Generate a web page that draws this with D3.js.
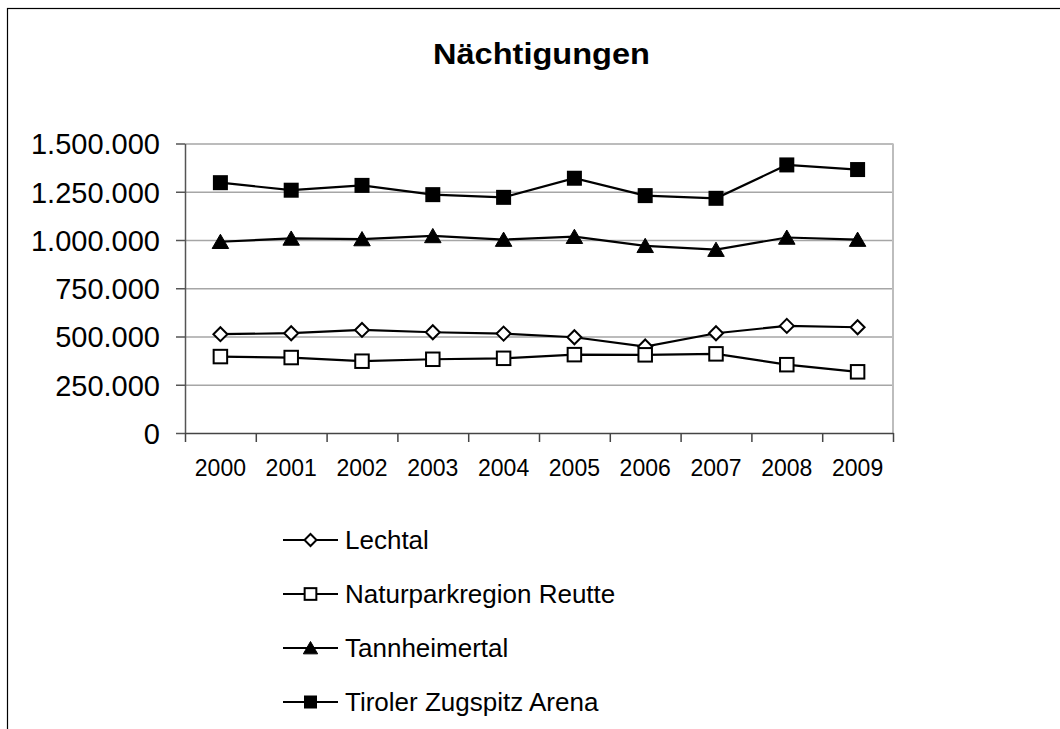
<!DOCTYPE html>
<html>
<head>
<meta charset="utf-8">
<script src="https://cdn.jsdelivr.net/npm/d3@7"></script>
<style>
  html, body { margin: 0; padding: 0; background: #fff; }
  svg { display: block; font-family: "Liberation Sans", Arial, sans-serif; }
</style>
</head>
<body>
<div id="chart"></div>
<script>
// Data
const years = ['2000', '2001', '2002', '2003', '2004', '2005', '2006', '2007', '2008', '2009'];
const lechtal = [512000, 517000, 534000, 522000, 515000, 496000, 448000, 517000, 555000, 548000];
const reutte = [396000, 391000, 372000, 382000, 387000, 406000, 405000, 410000, 354000, 317000];
const tannheimertal = [991000, 1008000, 1005000, 1021000, 1002000, 1017000, 970000, 950000, 1013000, 1002000];
const zugspitz = [1297000, 1258000, 1283000, 1235000, 1221000, 1320000, 1230000, 1216000, 1389000, 1365000];
const yTicks = [0, 250000, 500000, 750000, 1000000, 1250000, 1500000];
const seriesNames = ['Lechtal', 'Naturparkregion Reutte', 'Tannheimertal', 'Tiroler Zugspitz Arena'];

const SERIES = [
  { name: seriesNames[0], values: lechtal, marker: 'diamond' },
  { name: seriesNames[1], values: reutte, marker: 'openSquare' },
  { name: seriesNames[2], values: tannheimertal, marker: 'triangle' },
  { name: seriesNames[3], values: zugspitz, marker: 'square' },
];

const width = 1060, height = 729;
const plot = { left: 185, right: 893, top: 143.5, bottom: 433 };

const svg = d3.select('#chart').append('svg')
  .attr('width', width).attr('height', height);

// Outer chart frame
svg.append('rect')
  .attr('x', 7.5).attr('y', 8.5)
  .attr('width', 1100).attr('height', 800)
  .attr('fill', 'none').attr('stroke', '#000').attr('stroke-width', 1.2);

// Title (slightly wider glyphs, as in the original)
svg.append('text')
  .attr('x', 433).attr('y', 64)
  .attr('textLength', 217).attr('lengthAdjust', 'spacingAndGlyphs')
  .style('font-size', '29px').style('font-weight', 'bold')
  .text('Nächtigungen');

const x = d3.scaleBand().domain(years).range([plot.left, plot.right]).padding(0);
const xEdge = d3.scaleLinear().domain([0, years.length]).range([plot.left, plot.right]);
const y = d3.scaleLinear().domain([0, 1500000]).range([plot.bottom, plot.top]);
const deLocale = d3.formatLocale({ decimal: ',', thousands: '.', grouping: [3], currency: ['', ' €'] });
const fmt = deLocale.format(',.0f');

// Gridlines
svg.append('g')
  .attr('transform', `translate(${plot.left},0)`)
  .call(d3.axisLeft(y).tickValues(yTicks.slice(1)).tickSize(-(plot.right - plot.left)).tickFormat(''))
  .call(g => g.select('.domain').remove())
  .selectAll('line').attr('stroke', '#a6a6a6').attr('stroke-width', 1.3);

// Right border of plot area
svg.append('line')
  .attr('x1', plot.right).attr('x2', plot.right)
  .attr('y1', plot.top).attr('y2', plot.bottom)
  .attr('stroke', '#bdbdbd').attr('stroke-width', 2);

// Y axis
const yAxis = svg.append('g')
  .attr('transform', `translate(${plot.left},0)`)
  .call(d3.axisLeft(y).tickValues(yTicks).tickSize(9).tickPadding(16).tickSizeOuter(0).tickFormat(fmt));
yAxis.select('.domain').attr('stroke', '#555').attr('stroke-width', 1.5);
yAxis.selectAll('line').attr('stroke', '#555').attr('stroke-width', 1.5);
yAxis.selectAll('text').style('font-size', '29px').attr('fill', '#000').attr('dy', '0.36em');

// X axis: boundary ticks
const xAxis = svg.append('g')
  .attr('transform', `translate(0,${plot.bottom})`)
  .call(d3.axisBottom(xEdge).ticks(years.length).tickSize(9).tickSizeOuter(0).tickFormat(''));
xAxis.select('.domain').attr('stroke', '#444').attr('stroke-width', 1.5);
xAxis.selectAll('line').attr('stroke', '#444').attr('stroke-width', 1.5);

// X labels
svg.append('g')
  .attr('transform', `translate(0,${plot.bottom})`)
  .call(d3.axisBottom(x).tickSize(0).tickPadding(27))
  .call(g => g.select('.domain').remove())
  .selectAll('text').style('font-size', '23px').attr('fill', '#000');

// Marker drawing
function drawMarker(sel, type, size) {
  const s = size;
  if (type === 'diamond') {
    sel.append('path')
      .attr('d', `M0,${-s * 0.5}L${s * 0.5},0L0,${s * 0.5}L${-s * 0.5},0Z`)
      .attr('fill', '#fff').attr('stroke', '#000').attr('stroke-width', 2);
  } else if (type === 'openSquare') {
    sel.append('rect')
      .attr('x', -s * 0.45).attr('y', -s * 0.45).attr('width', s * 0.9).attr('height', s * 0.9)
      .attr('fill', '#fff').attr('stroke', '#000').attr('stroke-width', 2);
  } else if (type === 'triangle') {
    sel.append('path')
      .attr('d', `M0,${-s * 0.5}L${s * 0.55},${s * 0.45}L${-s * 0.55},${s * 0.45}Z`)
      .attr('fill', '#000').attr('stroke', '#000').attr('stroke-width', 1);
  } else {
    sel.append('rect')
      .attr('x', -s * 0.5).attr('y', -s * 0.5).attr('width', s).attr('height', s)
      .attr('fill', '#000');
  }
}

const line = d3.line()
  .x((d, i) => x(years[i]) + x.bandwidth() / 2)
  .y(d => y(d));

SERIES.forEach(sr => {
  svg.append('path')
    .datum(sr.values)
    .attr('d', line)
    .attr('fill', 'none').attr('stroke', '#000').attr('stroke-width', 2.2);
  sr.values.forEach((v, i) => {
    const g = svg.append('g')
      .attr('transform', `translate(${x(years[i]) + x.bandwidth() / 2},${y(v)})`);
    drawMarker(g, sr.marker, sr.marker === 'diamond' ? 14 : 15);
  });
});

// Legend
const legendY = [540, 594, 648, 702];
SERIES.forEach((sr, i) => {
  const g = svg.append('g').attr('transform', `translate(283,${legendY[i]})`);
  g.append('line').attr('x1', 0).attr('x2', 55).attr('y1', 0).attr('y2', 0)
    .attr('stroke', '#000').attr('stroke-width', 2.2);
  const m = g.append('g').attr('transform', 'translate(27.5,0)');
  drawMarker(m, sr.marker, sr.marker === 'diamond' ? 12 : 13);
  g.append('text').attr('x', 62).attr('y', 0).attr('dy', '0.36em')
    .style('font-size', '26px').text(sr.name);
});
</script>
</body>
</html>
